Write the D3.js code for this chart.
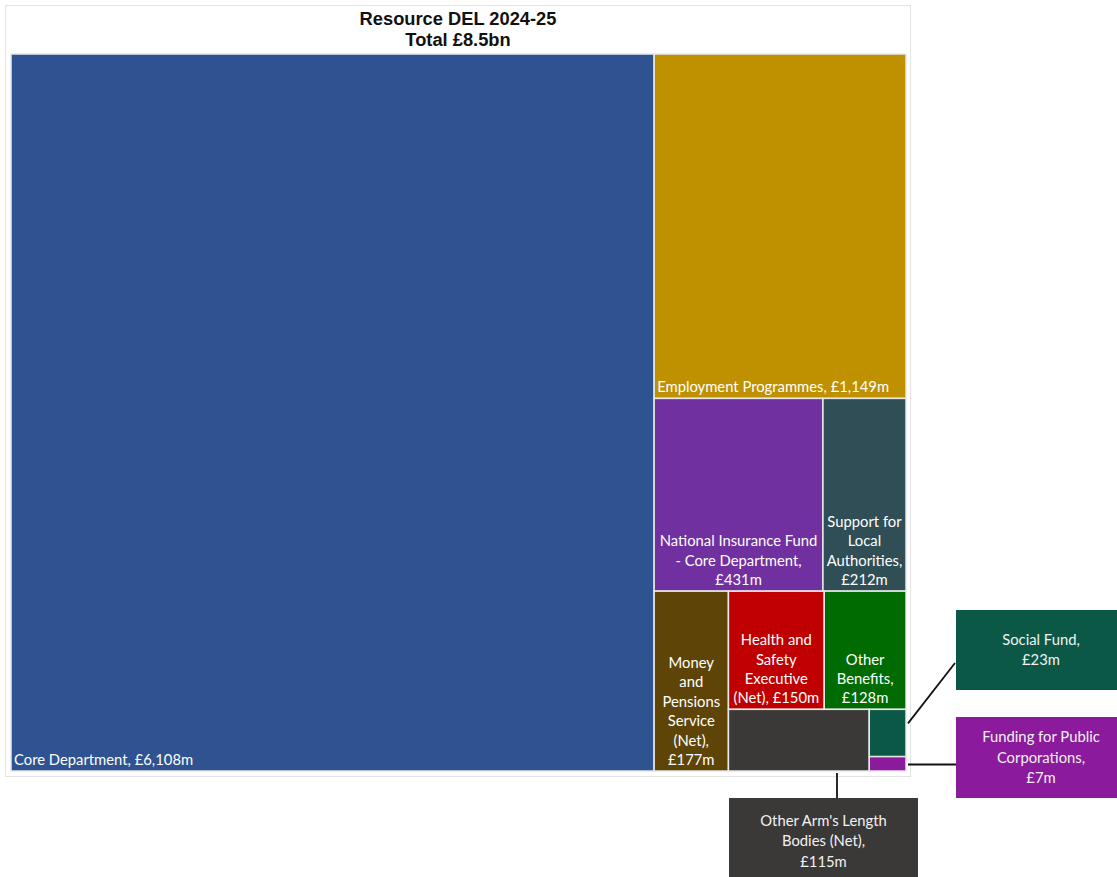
<!DOCTYPE html>
<html>
<head>
<meta charset="utf-8">
<script src="https://cdn.jsdelivr.net/npm/d3@7"></script>
<style>
  body { margin: 0; background: #fff; }
  svg { display: block; }
</style>
</head>
<body>
<svg id="treemap"></svg>
<script>
// Resource DEL 2024-25, £m
var names = [
    "Core Department",
    "Employment Programmes",
    "National Insurance Fund - Core Department",
    "Support for Local Authorities",
    "Money and Pensions Service (Net)",
    "Health and Safety Executive (Net)",
    "Other Benefits",
    "Other Arm's Length Bodies (Net)",
    "Social Fund",
    "Funding for Public Corporations"
];
var values = [6108, 1149, 431, 212, 177, 150, 128, 115, 23, 7];
var titleLines = ["Resource DEL 2024-25", "Total £8.5bn"];

var palette = ["#2f5290", "#bf9000", "#7030a0", "#2f4e56", "#5e4507",
               "#c00000", "#006b00", "#3b3838", "#0b5846", "#8b1a9c"];
var color = d3.scaleOrdinal().domain(names).range(palette);

var width = 1117, height = 877;
var svg = d3.select("#treemap").attr("width", width).attr("height", height);

// frame + title
svg.append("rect")
    .attr("x", 5.5).attr("y", 5.5)
    .attr("width", 905).attr("height", 771)
    .attr("fill", "#fff").attr("stroke", "#e3e3e3");

svg.selectAll(".title")
    .data(titleLines)
    .enter()
    .append("text")
    .attr("class", "title")
    .attr("x", 458)
    .attr("y", (d, i) => 25 + i * 21)
    .attr("text-anchor", "middle")
    .attr("font-family", "'Liberation Sans', Arial, sans-serif")
    .attr("font-weight", "bold")
    .attr("font-size", "18.3px")
    .attr("fill", "#111")
    .text(d => d);

// strip layout like the office treemap: each row goes along the shorter side
var rowCounts = [1, 1, 2, 1, 2, 1, 1, 1];
function stripTile(parent, x0, y0, x1, y1) {
    var nodes = parent.children, value = parent.value, i = 0, r = 0;
    while (i < nodes.length) {
        var n = rowCounts[r++] || nodes.length - i;
        var row = { children: nodes.slice(i, i + n) };
        row.value = d3.sum(row.children, d => d.value);
        var dx = x1 - x0, dy = y1 - y0;
        if (dx >= dy) {
            var xe = x0 + dx * row.value / value;
            d3.treemapSlice(row, x0, y0, xe, y1);
            x0 = xe;
        } else {
            var ye = y0 + dy * row.value / value;
            d3.treemapDice(row, x0, y0, x1, ye);
            y0 = ye;
        }
        value -= row.value;
        i += n;
    }
}

var root = d3.hierarchy({ children: names.map((n, i) => ({ name: n, value: values[i] })) })
    .sum(d => d.value || 0);

d3.treemap()
    .size([895, 717])
    .tile(stripTile)(root);

var g = svg.append("g").attr("transform", "translate(11,54)");

var leaves = g.selectAll(".leaf")
    .data(root.leaves())
    .enter()
    .append("g")
    .attr("class", "leaf");

leaves.append("rect")
    .attr("x", d => d.x0)
    .attr("y", d => d.y0)
    .attr("width", d => d.x1 - d.x0)
    .attr("height", d => d.y1 - d.y0)
    .attr("fill", d => color(d.data.name))
    .attr("stroke", "#e8e8e8")
    .attr("stroke-width", 1.5);

var fmt = d3.format(",");
function label(d) { return d.data.name + ", £" + fmt(d.data.value) + "m"; }

var fontFam = "Lato, 'Open Sans', sans-serif";
var fontSize = 14.8, lineH = 19.4;

// labels that fit inside their tile
var callouts = ["Other Arm's Length Bodies (Net)", "Social Fund", "Funding for Public Corporations"];

leaves.filter(d => callouts.indexOf(d.data.name) < 0).each(function (d) {
    var node = d3.select(this);
    var w = d.x1 - d.x0;
    var t = node.append("text")
        .attr("font-family", fontFam)
        .attr("font-size", fontSize + "px")
        .attr("fill", "#fff");
    // greedy word wrap
    var words = label(d).split(" "), lines = [], cur = "";
    var probe = t.append("tspan");
    words.forEach(function (wd) {
        var test = cur ? cur + " " + wd : wd;
        probe.text(test);
        if (cur && probe.node().getComputedTextLength() > w - 8) {
            lines.push(cur);
            cur = wd;
        } else {
            cur = test;
        }
    });
    lines.push(cur);
    probe.remove();
    var single = lines.length === 1;
    var baseY = d.y1 - 6;
    t.attr("text-anchor", single ? "start" : "middle");
    t.selectAll("tspan")
        .data(lines)
        .enter()
        .append("tspan")
        .attr("x", single ? d.x0 + 3 : (d.x0 + d.x1) / 2)
        .attr("y", (l, i) => baseY - (lines.length - 1 - i) * lineH)
        .text(l => l);
});

// callout boxes for the small tiles
var calloutBoxes = {
    "Social Fund": { box: [956, 610, 170, 80], lines: ["Social Fund,", "£23m"], from: d => [d.x1 + 13, d.y0 + 68], to: [955, 663] },
    "Funding for Public Corporations": { box: [956, 717, 170, 81], lines: ["Funding for Public", "Corporations,", "£7m"], from: d => [d.x1 + 13, 764.5], to: [956, 764.5] },
    "Other Arm's Length Bodies (Net)": { box: [729, 798, 189, 86], lines: ["Other Arm's Length", "Bodies (Net),", "£115m"], from: d => [837, d.y1 + 56], to: [837, 798] }
};

root.leaves().filter(d => calloutBoxes[d.data.name]).forEach(function (d) {
    var c = calloutBoxes[d.data.name];
    var p = c.from(d);
    svg.append("line")
        .attr("x1", p[0]).attr("y1", p[1])
        .attr("x2", c.to[0]).attr("y2", c.to[1])
        .attr("stroke", "#111").attr("stroke-width", 1.8);
    svg.append("rect")
        .attr("x", c.box[0]).attr("y", c.box[1])
        .attr("width", c.box[2]).attr("height", c.box[3])
        .attr("fill", color(d.data.name));
    var cy = c.box[1] + c.box[3] / 2;
    svg.append("text")
        .attr("text-anchor", "middle")
        .attr("font-family", fontFam)
        .attr("font-size", fontSize + "px")
        .attr("fill", "#f2f2f2")
        .selectAll("tspan")
        .data(c.lines)
        .enter()
        .append("tspan")
        .attr("x", c.box[0] + c.box[2] / 2)
        .attr("y", (l, i) => cy + 5 + (i - (c.lines.length - 1) / 2) * 20.5)
        .text(l => l);
});
</script>
</body>
</html>
